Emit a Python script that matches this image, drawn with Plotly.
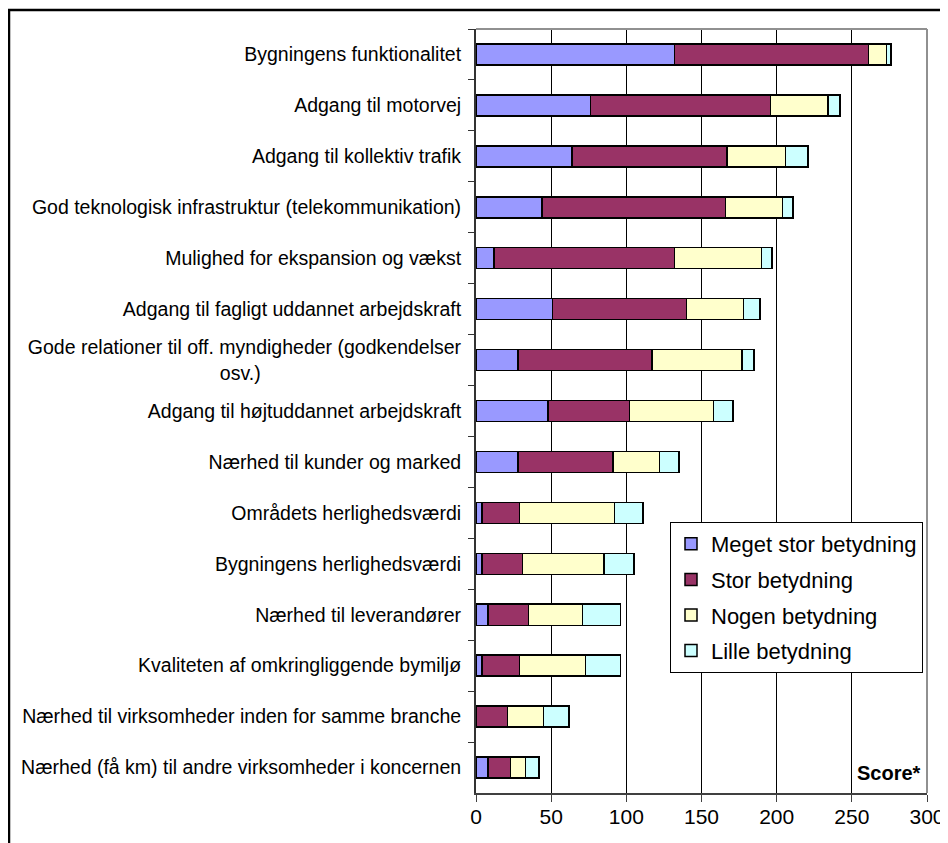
import plotly.graph_objects as go

categories = [
    "Bygningens funktionalitet",
    "Adgang til motorvej",
    "Adgang til kollektiv trafik",
    "God teknologisk infrastruktur (telekommunikation)",
    "Mulighed for ekspansion og vækst",
    "Adgang til fagligt uddannet arbejdskraft",
    "Gode relationer til off. myndigheder (godkendelser<br>osv.)" + "\u00a0" * 37,
    "Adgang til højtuddannet arbejdskraft",
    "Nærhed til kunder og marked",
    "Områdets herlighedsværdi",
    "Bygningens herlighedsværdi",
    "Nærhed til leverandører",
    "Kvaliteten af omkringliggende bymiljø",
    "Nærhed til virksomheder inden for samme branche",
    "Nærhed (få km) til andre virksomheder i koncernen",
]
series_names = ["Meget stor betydning", "Stor betydning", "Nogen betydning", "Lille betydning"]
meget = [132, 76, 64, 44, 12, 51, 28, 48, 28, 4, 4, 8, 4, 0, 8]
stor = [129, 120, 103, 122, 120, 89, 89, 54, 63, 25, 27, 27, 25, 21, 15]
nogen = [12, 38, 39, 38, 58, 38, 60, 56, 31, 63, 54, 36, 44, 24, 10]
lille = [3, 8, 15, 7, 7, 11, 8, 13, 13, 19, 20, 25, 23, 17, 9]
x_ticks = [0, 50, 100, 150, 200, 250, 300]

colors = ["#9999FF", "#993366", "#FFFFCC", "#CCFFFF"]
FONT = "Liberation Sans, Arial, sans-serif"

fig = go.Figure()
for name, vals, col in zip(series_names, [meget, stor, nogen, lille], colors):
    fig.add_trace(go.Bar(
        y=categories, x=vals, name=name, orientation="h",
        marker=dict(color=col, line=dict(color="black", width=1.5)),
        legendgroup=name,
    ))

# The page body has an 8px margin, so the figure starts at page (8, 8).
OFF = 8
W, H = 948 - OFF, 843 - OFF
L, T = 476 - OFF, 29 - OFF
R = W - (927 - OFF)
B = H - (793 - OFF)
pw, ph = W - L - R, H - T - B

def px_x(p):  # page pixel -> paper x
    return (p - OFF - L) / pw

def px_y(p):  # page pixel -> paper y
    return (H - B - (p - OFF)) / ph

fig.update_layout(
    width=W, height=H,
    margin=dict(l=L, r=R, t=T, b=B, pad=0),
    barmode="stack", bargap=0.587,
    plot_bgcolor="white", paper_bgcolor="white",
    font=dict(family=FONT, color="black"),
    showlegend=True,
    legend=dict(
        x=px_x(923), y=px_y(522), xanchor="right", yanchor="top",
        bgcolor="white", bordercolor="black", borderwidth=1,
        font=dict(size=22, family=FONT, color="black"),
        traceorder="grouped", tracegroupgap=4,
    ),
    xaxis=dict(
        range=[0, 300], tickvals=x_ticks, ticktext=[str(v) for v in x_ticks],
        showgrid=True, gridcolor="black", gridwidth=1,
        showline=True, linecolor="#404040", linewidth=2,
        ticks="outside", ticklen=7, tickcolor="#404040", tickwidth=1,
        tickfont=dict(size=21, family=FONT, color="black"),
        ticklabelstandoff=-3,
        zeroline=False, automargin=False, fixedrange=True,
    ),
    yaxis=dict(
        autorange="reversed", type="category",
        showgrid=False, showline=True, linecolor="#333333", linewidth=2,
        ticks="outside", tickson="boundaries", ticklen=6, tickcolor="#333333", tickwidth=1,
        tickfont=dict(size=19.5, family=FONT, color="black"),
        ticklabelstandoff=9,
        automargin=False, fixedrange=True,
    ),
    shapes=[
        dict(type="line", xref="paper", yref="paper", x0=0, x1=1, y0=1, y1=1,
             line=dict(color="#909090", width=2)),
        dict(type="line", xref="paper", yref="paper", x0=1, x1=1, y0=0, y1=1,
             line=dict(color="#909090", width=2)),
        dict(type="rect", xref="paper", yref="paper",
             x0=px_x(9), x1=px_x(946.5), y0=px_y(870), y1=px_y(10),
             line=dict(color="black", width=2.5), fillcolor="rgba(0,0,0,0)"),
    ],
    annotations=[
        dict(text="<b>Score*</b>", xref="paper", yref="paper",
             x=px_x(923), y=px_y(773), xanchor="right", yanchor="middle",
             showarrow=False, font=dict(size=20, family=FONT, color="black")),
    ],
)

fig.write_html("out.html")
